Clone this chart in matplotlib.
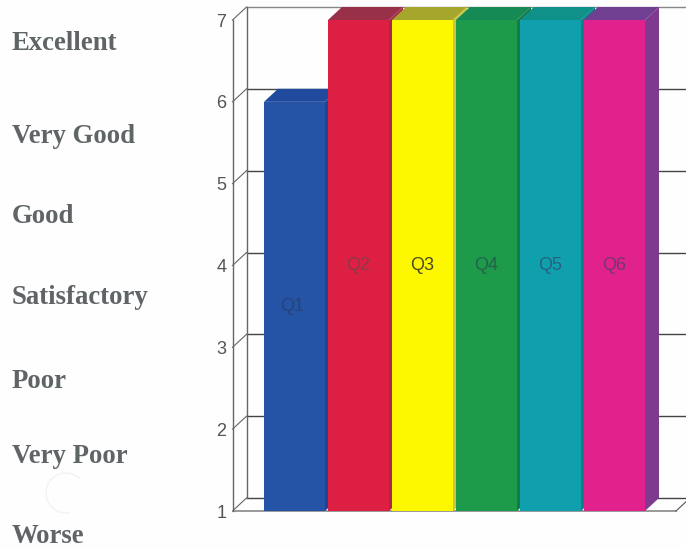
import matplotlib
matplotlib.use("Agg")
import matplotlib.pyplot as plt
from matplotlib.patches import Polygon, Arc
from matplotlib.transforms import IdentityTransform

categories = ["Q1", "Q2", "Q3", "Q4", "Q5", "Q6"]
values = [6, 7, 7, 7, 7, 7]
rating_labels = ["Excellent", "Very Good", "Good", "Satisfactory", "Poor", "Very Poor", "Worse"]
rating_baselines_px = [50, 143, 223, 304, 388, 463, 543]
y_ticks = [1, 2, 3, 4, 5, 6, 7]

front_colors = ["#2553a6", "#dc1f42", "#fdf700", "#1d9a4a", "#10a0ad", "#e1218c"]
top_colors = ["#1f4a9e", "#98304a", "#a6a52c", "#168a55", "#0f9088", "#6f3f92"]
side_colors = ["#1f4590", "#a82a48", "#c8c840", "#157a45", "#0d8088", "#7d3a8f"]
label_colors = ["#254578", "#8a3a48", "#4a4a20", "#26624a", "#266280", "#763670"]

W, H = 686, 548
LEFT, RIGHT, TOP, BOTTOM = 232.5, 676.0, 20.0, 511.0
STEP, BAR_PX, FIRST_CENTER = 64.0, 61.0, 294.5
DX_PX, DY_PX = 14.0, 13.0
WALL = "#666666"

fig = plt.figure(figsize=(W / 100, H / 100), dpi=100, facecolor="#fefefe")
ax = fig.add_axes([LEFT / W, 1 - BOTTOM / H, (RIGHT - LEFT) / W, (BOTTOM - TOP) / H])
ax.patch.set_visible(False)
ax.set_xlim((LEFT - FIRST_CENTER) / STEP, (RIGHT - FIRST_CENTER) / STEP)
ax.set_ylim(1, 7)
per_unit_y = (BOTTOM - TOP) / 6
dx = DX_PX / STEP
dy = DY_PX / per_unit_y
bar_w = BAR_PX / STEP
x0, x1 = ax.get_xlim()
x_far = (W + 2 - FIRST_CENTER) / STEP

# walls and grid
for v in y_ticks:
    color = "#888888" if v == 7 else "#444444"
    ax.plot([x0, x0 + dx], [v, v + dy], color=WALL, lw=0.8, clip_on=False, zorder=1)
    ax.plot([x0 + dx, x_far], [v + dy, v + dy], color=color, lw=1.0, clip_on=False, zorder=1)
ax.plot([x0 + dx, x0 + dx], [1 + dy, 7 + dy], color="#666666", lw=1.0, clip_on=False, zorder=1)
ax.plot([x0, x1], [1, 1], color="#999999", lw=1.4, clip_on=False, zorder=1)
ax.plot([x1, x1 + dx], [1, 1 + dy], color="#555555", lw=0.8, clip_on=False, zorder=1)

# 3D bars, drawn left to right
for i, (cat, v) in enumerate(zip(categories, values)):
    z = 3 + i
    l, r = i - bar_w / 2, i + bar_w / 2
    ax.add_patch(Polygon([(l, v), (r, v), (r + dx, v + dy), (l + dx, v + dy)],
                         closed=True, fc=top_colors[i], ec="none", clip_on=False, zorder=z))
    ax.add_patch(Polygon([(r, 1), (r + dx, 1 + dy), (r + dx, v + dy), (r, v)],
                         closed=True, fc=side_colors[i], ec="none", clip_on=False, zorder=z))
    ax.bar(i, v - 1, bottom=1, width=bar_w, color=front_colors[i], zorder=z + 0.5)
    ax.text(i - 0.03 if i == 0 else i, (1 + v) / 2, cat, ha="center", va="center",
            fontsize=13, family="Liberation Sans", color=label_colors[i], zorder=20)

# axes
for name in ("top", "right", "bottom"):
    ax.spines[name].set_visible(False)
ax.spines["left"].set_color("#666666")
ax.spines["left"].set_linewidth(1.0)
ax.set_xticks([])
ax.set_yticks(y_ticks)
ax.tick_params(axis="y", length=0, pad=4.5, labelsize=13, labelcolor="#555555")
for t in ax.get_yticklabels():
    t.set_family("Liberation Sans")

for label, base in zip(rating_labels, rating_baselines_px):
    fig.text(12 / W, 1 - base / H, label, family="Liberation Serif", weight="bold",
             fontsize=19.3, color="#5f6466", ha="left", va="baseline")

# faint scan mark in the reference
fig.add_artist(Arc((66, H - 493), 40, 40, theta1=45, theta2=280, color="#f2f2f2",
                   lw=1.0, transform=IdentityTransform()))

fig.savefig("out.png", dpi=100, facecolor=fig.get_facecolor())
